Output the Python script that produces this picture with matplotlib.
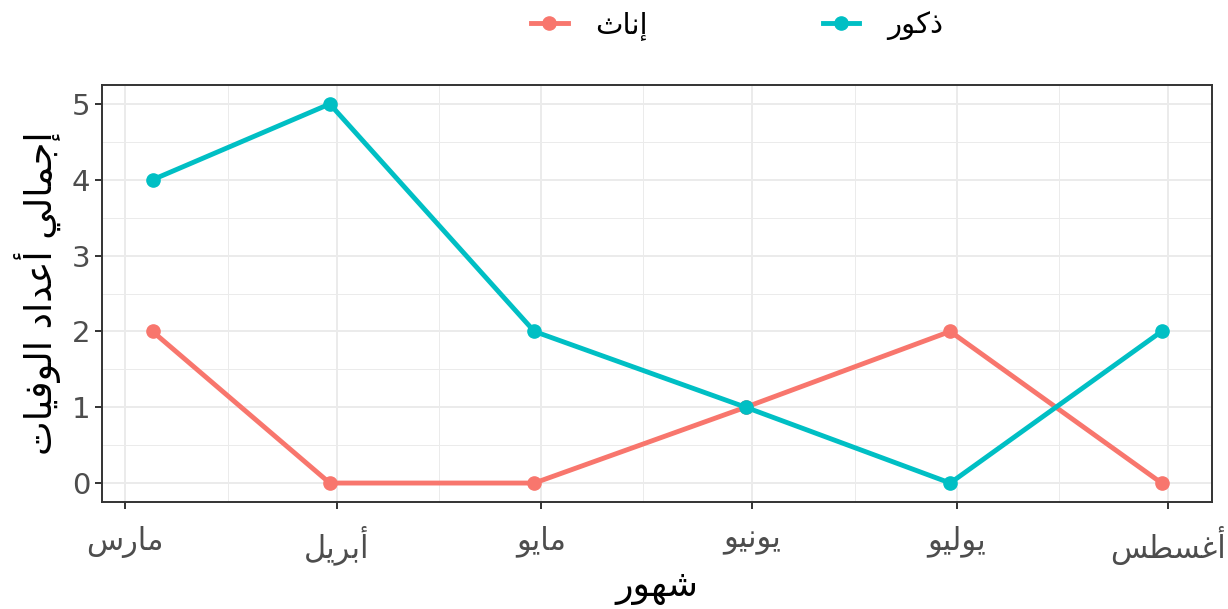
import matplotlib
matplotlib.use("Agg")
import matplotlib.pyplot as plt
import matplotlib.dates as mdates
from matplotlib.ticker import MultipleLocator, FuncFormatter
import numpy as np

# dates of the monthly totals
dates = np.array(["2020-03-05", "2020-03-31", "2020-04-30",
                  "2020-05-31", "2020-06-30", "2020-07-31"], dtype="datetime64[D]")
males = [4, 5, 2, 1, 0, 2]
females = [2, 0, 0, 1, 2, 0]

month_names = {3: "مارس", 4: "أبريل", 5: "مايو", 6: "يونيو", 7: "يوليو", 8: "أغسطس"}
label_female = "إناث"
label_male = "ذكور"
x_title = "شهور"
y_title = "إجمالي أعداد الوفيات"

RED = "#F8766D"
CYAN = "#00BFC4"

# matplotlib doesn't shape arabic, so pick presentation forms by hand and reverse
DUAL = {"ب": 0xFE8F, "ت": 0xFE95, "ث": 0xFE99, "ج": 0xFE9D, "س": 0xFEB1,
        "ش": 0xFEB5, "ط": 0xFEC1, "ع": 0xFEC9, "غ": 0xFECD, "ف": 0xFED1,
        "ك": 0xFED9, "ل": 0xFEDD, "م": 0xFEE1, "ن": 0xFEE5, "ه": 0xFEE9,
        "ي": 0xFEF1}
RIGHT = {"ا": 0xFE8D, "أ": 0xFE83, "إ": 0xFE87, "د": 0xFEA9, "ذ": 0xFEAB,
         "ر": 0xFEAD, "و": 0xFEED}


def shape(text):
    out = []
    n = len(text)
    for i, ch in enumerate(text):
        if ch not in DUAL and ch not in RIGHT:
            out.append(ch)
            continue
        prev_join = i > 0 and text[i - 1] in DUAL
        next_join = ch in DUAL and i + 1 < n and (text[i + 1] in DUAL or text[i + 1] in RIGHT)
        if ch in RIGHT:
            code = RIGHT[ch] + (1 if prev_join else 0)
        else:
            base = DUAL[ch]
            if prev_join and next_join:
                code = base + 3
            elif next_join:
                code = base + 2
            elif prev_join:
                code = base + 1
            else:
                code = base
        out.append(chr(code))
    return "".join(out)[::-1]


plt.rcParams["font.family"] = ["DejaVu Sans"]

fig = plt.figure(figsize=(12.28, 6.09), dpi=100)
ax = fig.add_axes([0.0831, 0.1757, 0.9039, 0.6847])

ax.plot(dates, females, color=RED, lw=3.5, marker="o", ms=9.5, label=shape(label_female), zorder=3)
ax.plot(dates, males, color=CYAN, lw=3.5, marker="o", ms=9.5, label=shape(label_male), zorder=3)
ax.margins(x=0.05, y=0.05)

ax.xaxis.set_major_locator(mdates.MonthLocator())
ax.xaxis.set_minor_locator(mdates.MonthLocator(bymonthday=16))
ax.xaxis.set_major_formatter(FuncFormatter(
    lambda v, p: shape(month_names.get(mdates.num2date(v).month, ""))))
ax.yaxis.set_major_locator(MultipleLocator(1))
ax.yaxis.set_minor_locator(MultipleLocator(0.5))

ax.grid(which="major", color="#EBEBEB", lw=1.4)
ax.grid(which="minor", color="#EBEBEB", lw=0.7)
ax.set_axisbelow(True)
for s in ax.spines.values():
    s.set_color("#333333")
    s.set_linewidth(1.4)
ax.tick_params(which="major", length=5, width=1.4, color="#333333",
               labelcolor="#4D4D4D", labelsize=21)
ax.tick_params(axis="x", labelsize=22, pad=12)
ax.tick_params(which="minor", length=0)

ax.set_xlabel(shape(x_title), fontsize=26, labelpad=4)
ax.set_ylabel(shape(y_title), fontsize=26.5, labelpad=8)

ax.legend(loc="lower center", bbox_to_anchor=(0.572, 1.045), ncol=2, frameon=False,
          fontsize=21, handlelength=1.25, handletextpad=0.95, columnspacing=6.0)

fig.savefig("out.png", dpi=100)
